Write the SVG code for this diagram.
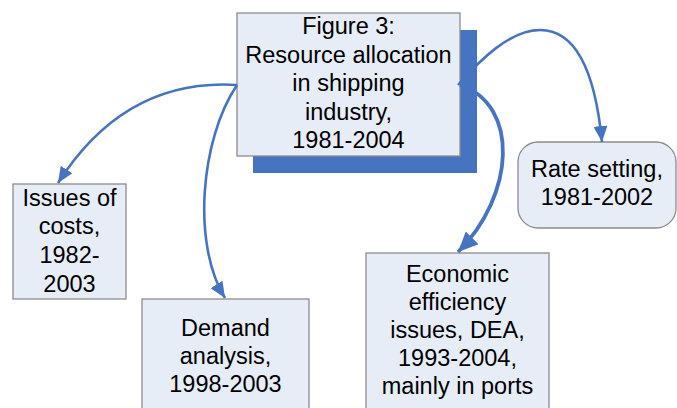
<svg xmlns="http://www.w3.org/2000/svg" width="677" height="408" viewBox="0 0 677 408">
  <defs>
    <style>
      .box { fill: #E7EDF7; stroke: #8C8C8C; stroke-width: 1.3; }
      .shadow { fill: #4674C1; }
      .lbl { font-family: "Liberation Sans", Arial, sans-serif; font-size: 23.5px; fill: #000; text-anchor: middle; }
      .link { fill: none; stroke: #4674C1; stroke-width: 2.6; }
      .link.bold { stroke-width: 3.8; }
    </style>
    <marker id="arrow" markerUnits="userSpaceOnUse" markerWidth="18" markerHeight="14" refX="16" refY="7" orient="auto">
      <path d="M0,0 L16,7 L0,14 Z" fill="#4674C1"/>
    </marker>
    <marker id="arrowBig" markerUnits="userSpaceOnUse" markerWidth="22" markerHeight="18" refX="20" refY="9" orient="auto">
      <path d="M0,0 L20,9 L0,18 Z" fill="#4674C1"/>
    </marker>
  </defs>

  <rect width="677" height="408" fill="#FFFFFF"/>

  <!-- central topic with drop shadow -->
  <g id="main">
    <rect class="shadow" x="253" y="30" width="224" height="143"/>
    <rect class="box" x="237" y="13" width="223" height="143"/>
    <text class="lbl" x="348.5" y="34">Figure 3:</text>
    <text class="lbl" x="348.5" y="63">Resource allocation</text>
    <text class="lbl" x="348.5" y="91">in shipping</text>
    <text class="lbl" x="348.5" y="120">industry,</text>
    <text class="lbl" x="348.5" y="148">1981-2004</text>
  </g>

  <g id="costs">
    <rect class="box" x="13" y="184" width="113" height="115"/>
    <text class="lbl" x="69.5" y="206">Issues of</text>
    <text class="lbl" x="69.5" y="234">costs,</text>
    <text class="lbl" x="69.5" y="263">1982-</text>
    <text class="lbl" x="69.5" y="292">2003</text>
  </g>

  <g id="demand">
    <rect class="box" x="142" y="299" width="167" height="115"/>
    <text class="lbl" x="225.5" y="336">Demand</text>
    <text class="lbl" x="225.5" y="364">analysis,</text>
    <text class="lbl" x="225.5" y="392">1998-2003</text>
  </g>

  <g id="rates">
    <rect class="box" x="518" y="142" width="158" height="86" rx="20" ry="20"/>
    <text class="lbl" x="597" y="177">Rate setting,</text>
    <text class="lbl" x="597" y="205">1981-2002</text>
  </g>

  <g id="efficiency">
    <rect class="box" x="366" y="253" width="183" height="160"/>
    <text class="lbl" x="457.5" y="282">Economic</text>
    <text class="lbl" x="457.5" y="310">efficiency</text>
    <text class="lbl" x="457.5" y="338">issues, DEA,</text>
    <text class="lbl" x="457.5" y="366">1993-2004,</text>
    <text class="lbl" x="457.5" y="394">mainly in ports</text>
  </g>

  <g id="connectors">
    <path class="link" d="M237,85 Q125,78 58,183" marker-end="url(#arrow)"/>
    <path class="link" d="M237,85 C200,140 192,245 225,298" marker-end="url(#arrow)"/>
    <path class="link" d="M458,85 C480,60 510,30 540,30 C575,30 595,70 602,142" marker-end="url(#arrow)"/>
    <path class="link bold" d="M460,85 C520,105 515,195 458,252" marker-end="url(#arrowBig)"/>
  </g>
</svg>
